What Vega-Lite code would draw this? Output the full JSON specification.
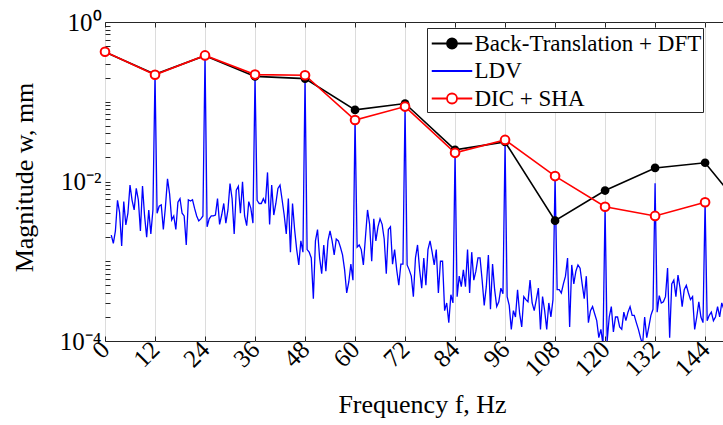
{
  "$schema": "https://vega.github.io/schema/vega-lite/v6.json",
  "width": 618,
  "height": 319,
  "autosize": {"type": "none"},
  "padding": {"left": 105, "top": 22, "right": 0, "bottom": 84},
  "background": "white",
  "config": {
    "font": "Liberation Serif",
    "style": {"guide-label": {"font": "Liberation Serif"}, "guide-title": {"font": "Liberation Serif"}},
    "view": {"stroke": "#262626", "strokeWidth": 1},
    "axis": {"labelFont": "Liberation Serif", "titleFont": "Liberation Serif", "labelColor": "#000000", "titleColor": "#000000", "domainColor": "#262626", "tickColor": "#262626", "titleFontWeight": "normal"},
    "legend": {"fillColor": "white", "strokeColor": "#262626", "padding": 1, "cornerRadius": 0, "labelFont": "Liberation Serif", "labelFontSize": 23, "labelColor": "#000000", "labelLimit": 400, "rowPadding": 0.5, "symbolStrokeWidth": 1.8, "symbolOpacity": 1, "symbolSize": 729, "symbolOffset": 9.5, "labelOffset": 8}
  },
  "datasets": {
    "ldv": [
      {"f":1.5,"m":0.00213},{"f":2,"m":0.00168},{"f":2.5,"m":0.0024},{"f":3,"m":0.0058},{"f":3.5,"m":0.0041},{"f":4,"m":0.00155},{"f":4.5,"m":0.0056},{"f":5,"m":0.00285},{"f":5.5,"m":0.004},{"f":6,"m":0.009},{"f":6.5,"m":0.0058},{"f":7,"m":0.0044},{"f":7.5,"m":0.0082},{"f":8,"m":0.0059},{"f":8.5,"m":0.0024},{"f":9,"m":0.0088},{"f":9.5,"m":0.0037},{"f":10,"m":0.002},{"f":10.5,"m":0.0044},{"f":11,"m":0.0022},{"f":11.5,"m":0.0044},
      {"f":12,"m":0.22},{"f":12.5,"m":0.004},{"f":13,"m":0.0049},{"f":13.5,"m":0.0051},{"f":14,"m":0.0025},{"f":14.5,"m":0.0048},{"f":15,"m":0.0108},{"f":15.5,"m":0.007},{"f":16,"m":0.0033},{"f":16.5,"m":0.0037},{"f":17,"m":0.0025},{"f":17.5,"m":0.0055},{"f":18,"m":0.0061},{"f":18.5,"m":0.004},{"f":19,"m":0.0037},{"f":19.5,"m":0.0016},{"f":20,"m":0.0059},{"f":20.5,"m":0.0057},{"f":21,"m":0.0059},{"f":21.5,"m":0.0046},{"f":22,"m":0.0037},{"f":22.5,"m":0.0032},{"f":23,"m":0.0034},{"f":23.5,"m":0.0037},
      {"f":24,"m":0.38},{"f":24.5,"m":0.0027},{"f":25,"m":0.0034},{"f":25.5,"m":0.0037},{"f":26,"m":0.0037},{"f":26.5,"m":0.0038},{"f":27,"m":0.0061},{"f":27.5,"m":0.0029},{"f":28,"m":0.0038},{"f":28.5,"m":0.0053},{"f":29,"m":0.003},{"f":29.5,"m":0.0044},{"f":30,"m":0.0094},{"f":30.5,"m":0.0061},{"f":31,"m":0.0022},{"f":31.5,"m":0.0078},{"f":32,"m":0.0087},{"f":32.5,"m":0.004},{"f":33,"m":0.0099},{"f":33.5,"m":0.0037},{"f":34,"m":0.0028},{"f":34.5,"m":0.0056},{"f":35,"m":0.0046},{"f":35.5,"m":0.003},
      {"f":36,"m":0.205},{"f":36.5,"m":0.0058},{"f":37,"m":0.0053},{"f":37.5,"m":0.0053},{"f":38,"m":0.0061},{"f":38.5,"m":0.0053},{"f":39,"m":0.013},{"f":39.5,"m":0.0029},{"f":40,"m":0.009},{"f":40.5,"m":0.0038},{"f":41,"m":0.0053},{"f":41.5,"m":0.0082},{"f":42,"m":0.009},{"f":42.5,"m":0.0059},{"f":43,"m":0.0038},{"f":43.5,"m":0.0022},{"f":44,"m":0.0061},{"f":44.5,"m":0.0013},{"f":45,"m":0.0053},{"f":45.5,"m":0.0025},{"f":46,"m":0.0014},{"f":46.5,"m":0.0009},{"f":47,"m":0.0018},{"f":47.5,"m":0.0013},
      {"f":48,"m":0.198},{"f":48.5,"m":0.0014},{"f":49,"m":0.0013},{"f":49.5,"m":0.0011},{"f":50,"m":0.00034},{"f":50.5,"m":0.0018},{"f":51,"m":0.0025},{"f":51.5,"m":0.0011},{"f":52,"m":0.0007},{"f":52.5,"m":0.0016},{"f":53,"m":0.00075},{"f":53.5,"m":0.0018},{"f":54,"m":0.0024},{"f":54.5,"m":0.0018},{"f":55,"m":0.0012},{"f":55.5,"m":0.0019},{"f":56,"m":0.0018},{"f":56.5,"m":0.0015},{"f":57,"m":0.0012},{"f":57.5,"m":0.00078},{"f":58,"m":0.0004},{"f":58.5,"m":0.00055},{"f":59,"m":0.00092},{"f":59.5,"m":0.00058},
      {"f":60,"m":0.061},{"f":60.5,"m":0.0015},{"f":61,"m":0.0016},{"f":61.5,"m":0.0014},{"f":62,"m":0.0009},{"f":62.5,"m":0.002},{"f":63,"m":0.0044},{"f":63.5,"m":0.0029},{"f":64,"m":0.001},{"f":64.5,"m":0.0034},{"f":65,"m":0.0018},{"f":65.5,"m":0.0027},{"f":66,"m":0.0034},{"f":66.5,"m":0.0029},{"f":67,"m":0.0019},{"f":67.5,"m":0.0007},{"f":68,"m":0.0025},{"f":68.5,"m":0.0027},{"f":69,"m":0.00092},{"f":69.5,"m":0.0014},{"f":70,"m":0.00078},{"f":70.5,"m":0.0005},{"f":71,"m":0.00092},{"f":71.5,"m":0.00092},
      {"f":72,"m":0.086},{"f":72.5,"m":0.0009},{"f":73,"m":0.00078},{"f":73.5,"m":0.00065},{"f":74,"m":0.00036},{"f":74.5,"m":0.0011},{"f":75,"m":0.0016},{"f":75.5,"m":0.00078},{"f":76,"m":0.00046},{"f":76.5,"m":0.0011},{"f":77,"m":0.0005},{"f":77.5,"m":0.0014},{"f":78,"m":0.0018},{"f":78.5,"m":0.0013},{"f":79,"m":0.0009},{"f":79.5,"m":0.0014},{"f":80,"m":0.0004},{"f":80.5,"m":0.001},{"f":81,"m":0.001},{"f":81.5,"m":0.00024},{"f":82,"m":0.0003},{"f":82.5,"m":0.00017},{"f":83,"m":0.00038},{"f":83.5,"m":0.0003},
      {"f":84,"m":0.023},{"f":84.5,"m":0.00036},{"f":85,"m":0.00065},{"f":85.5,"m":0.00048},{"f":86,"m":0.00078},{"f":86.5,"m":0.00048},{"f":87,"m":0.0014},{"f":87.5,"m":0.0004},{"f":88,"m":0.0013},{"f":88.5,"m":0.00058},{"f":89,"m":0.00075},{"f":89.5,"m":0.0011},{"f":90,"m":0.0011},{"f":90.5,"m":0.00058},{"f":91,"m":0.00028},{"f":91.5,"m":0.00048},{"f":92,"m":0.0012},{"f":92.5,"m":0.00025},{"f":93,"m":0.00092},{"f":93.5,"m":0.00044},{"f":94,"m":0.00027},{"f":94.5,"m":0.00031},{"f":95,"m":0.00046},{"f":95.5,"m":0.00039},
      {"f":96,"m":0.03},{"f":96.5,"m":0.00036},{"f":97,"m":0.00028},{"f":97.5,"m":0.00014},{"f":98,"m":0.00024},{"f":98.5,"m":0.0002},{"f":99,"m":0.00044},{"f":99.5,"m":0.00022},{"f":100,"m":0.00015},{"f":100.5,"m":0.00036},{"f":101,"m":0.00033},{"f":101.5,"m":0.00031},{"f":102,"m":0.00058},{"f":102.5,"m":0.0003},{"f":103,"m":0.00024},{"f":103.5,"m":0.00033},{"f":104,"m":0.00046},{"f":104.5,"m":0.00014},{"f":105,"m":0.00036},{"f":105.5,"m":0.00024},{"f":106,"m":0.00014},{"f":106.5,"m":0.0003},{"f":107,"m":0.0002},{"f":107.5,"m":0.00033},
      {"f":108,"m":0.0115},{"f":108.5,"m":0.00044},{"f":109,"m":0.00044},{"f":109.5,"m":0.0004},{"f":110,"m":0.00052},{"f":110.5,"m":0.00065},{"f":111,"m":0.0011},{"f":111.5,"m":0.00015},{"f":112,"m":0.0009},{"f":112.5,"m":0.00052},{"f":113,"m":0.00075},{"f":113.5,"m":0.0009},{"f":114,"m":0.00082},{"f":114.5,"m":0.00052},{"f":115,"m":0.00034},{"f":115.5,"m":0.00065},{"f":116,"m":0.00017},{"f":116.5,"m":0.00024},{"f":117,"m":0.00027},{"f":117.5,"m":0.00022},{"f":118,"m":0.00018},{"f":118.5,"m":0.00011},{"f":119,"m":0.00014},{"f":119.5,"m":0.00009},
      {"f":120,"m":0.0048},{"f":120.5,"m":0.0001},{"f":121,"m":0.0002},{"f":121.5,"m":0.00027},{"f":122,"m":0.00013},{"f":122.5,"m":0.0002},{"f":123,"m":0.0002},{"f":123.5,"m":0.00015},{"f":124,"m":0.00014},{"f":124.5,"m":0.00023},{"f":125,"m":0.00018},{"f":125.5,"m":0.00023},{"f":126,"m":0.00027},{"f":126.5,"m":0.00021},{"f":127,"m":0.00021},{"f":127.5,"m":0.00017},{"f":128,"m":0.00014},{"f":128.5,"m":0.00011},{"f":129,"m":0.00009},{"f":129.5,"m":0.0002},{"f":130,"m":0.00011},{"f":130.5,"m":0.00015},{"f":131,"m":0.00021},{"f":131.5,"m":0.00025},
      {"f":132,"m":0.0095},{"f":132.5,"m":0.00023},{"f":133,"m":0.00037},{"f":133.5,"m":0.0003},{"f":134,"m":0.00031},{"f":134.5,"m":0.00036},{"f":135,"m":0.00082},{"f":135.5,"m":0.00011},{"f":136,"m":0.00052},{"f":136.5,"m":0.00058},{"f":137,"m":0.00036},{"f":137.5,"m":0.00067},{"f":138,"m":0.00046},{"f":138.5,"m":0.00027},{"f":139,"m":0.00044},{"f":139.5,"m":0.0005},{"f":140,"m":0.0004},{"f":140.5,"m":0.00033},{"f":141,"m":0.00036},{"f":141.5,"m":0.00014},{"f":142,"m":0.0002},{"f":142.5,"m":0.00031},{"f":143,"m":0.0002},{"f":143.5,"m":0.00017},
      {"f":144,"m":0.0055},{"f":144.5,"m":0.00018},{"f":145,"m":0.00021},{"f":145.5,"m":0.00023},{"f":146,"m":0.00018},{"f":146.5,"m":0.0002},{"f":147,"m":0.00027},{"f":147.5,"m":0.0002},{"f":148,"m":0.0003},{"f":148.5,"m":0.00025}
    ],
    "pts": [
      {"s":"Back-Translation + DFT","f":0,"m":0.42},{"s":"Back-Translation + DFT","f":12,"m":0.221},{"s":"Back-Translation + DFT","f":24,"m":0.378},{"s":"Back-Translation + DFT","f":36,"m":0.208},{"s":"Back-Translation + DFT","f":48,"m":0.195},{"s":"Back-Translation + DFT","f":60,"m":0.079},{"s":"Back-Translation + DFT","f":72,"m":0.095},{"s":"Back-Translation + DFT","f":84,"m":0.0249},{"s":"Back-Translation + DFT","f":96,"m":0.0313},{"s":"Back-Translation + DFT","f":108,"m":0.00323},{"s":"Back-Translation + DFT","f":120,"m":0.0077},{"s":"Back-Translation + DFT","f":132,"m":0.0148},{"s":"Back-Translation + DFT","f":144,"m":0.0172},{"s":"Back-Translation + DFT","f":156,"m":0.0029},
      {"s":"DIC + SHA","f":0,"m":0.424},{"s":"DIC + SHA","f":12,"m":0.218},{"s":"DIC + SHA","f":24,"m":0.381},{"s":"DIC + SHA","f":36,"m":0.219},{"s":"DIC + SHA","f":48,"m":0.215},{"s":"DIC + SHA","f":60,"m":0.059},{"s":"DIC + SHA","f":72,"m":0.087},{"s":"DIC + SHA","f":84,"m":0.0229},{"s":"DIC + SHA","f":96,"m":0.0332},{"s":"DIC + SHA","f":108,"m":0.0117},{"s":"DIC + SHA","f":120,"m":0.00483},{"s":"DIC + SHA","f":132,"m":0.0037},{"s":"DIC + SHA","f":144,"m":0.0055}
    ]
  },
  "layer": [
    {
      "data": {"name": "ldv"},
      "mark": {"type": "line", "clip": true, "strokeWidth": 1.3, "color": "#0000ff"},
      "encoding": {
        "x": {"field": "f", "type": "quantitative", "scale": {"domain": [0, 148.3], "nice": false, "zero": false},
          "axis": {"values": [0,12,24,36,48,60,72,84,96,108,120,132,144], "grid": true, "gridColor": "#dcdcdc", "gridWidth": 1, "domain": false, "tickSize": -5, "labelAngle": -45, "labelAlign": "right", "labelBaseline": "middle", "labelFontSize": 25, "labelPadding": 9, "labelFlush": false, "labelOverlap": false, "labelBound": false, "title": "Frequency f, Hz", "titleFontSize": 26, "titleX": 317, "titleY": 71, "titleAlign": "center", "titleBaseline": "alphabetic"}},
        "y": {"field": "m", "type": "quantitative", "scale": {"type": "log", "domain": [0.0001, 1], "nice": false},
          "axis": {"values": [0.0001,0.0002,0.0003,0.0004,0.0005,0.0006,0.0007,0.0008,0.0009,0.001,0.002,0.003,0.004,0.005,0.006,0.007,0.008,0.009,0.01,0.02,0.03,0.04,0.05,0.06,0.07,0.08,0.09,0.1,0.2,0.3,0.4,0.5,0.6,0.7,0.8,0.9,1], "grid": false, "domain": false, "tickSize": -5, "labelExpr": "datum.value == 1 ? '10⁰' : datum.value == 0.01 ? '10⁻²' : datum.value == 0.0001 ? '10⁻⁴' : ''", "labelFontSize": 25, "labelPadding": 9, "labelFlush": false, "labelOverlap": false, "labelBound": false, "title": "Magnitude w, mm", "titleFontSize": 26, "titleX": -73, "titleY": 155, "titleAlign": "center", "titleBaseline": "alphabetic"}}
      }
    },
    {
      "data": {"name": "pts"},
      "transform": [{"filter": "datum.s === 'Back-Translation + DFT'"}],
      "mark": {"type": "line", "clip": false, "strokeWidth": 1.6, "color": "#000000"},
      "encoding": {
        "x": {"field": "f", "type": "quantitative", "axis": {"orient": "top", "values": [0,12,24,36,48,60,72,84,96,108,120,132,144], "grid": false, "labels": false, "domain": false, "tickSize": -5, "title": null}},
        "y": {"field": "m", "type": "quantitative"}
      }
    },
    {
      "data": {"name": "pts"},
      "transform": [{"filter": "datum.s === 'DIC + SHA'"}],
      "mark": {"type": "line", "clip": false, "strokeWidth": 1.6, "color": "#ff0000"},
      "encoding": {
        "x": {"field": "f", "type": "quantitative", "axis": null},
        "y": {"field": "m", "type": "quantitative"}
      }
    },
    {
      "data": {"name": "pts"},
      "transform": [{"filter": "datum.s === 'Back-Translation + DFT'"}],
      "mark": {"type": "point", "filled": true, "size": 75, "opacity": 1, "clip": false, "color": "#000000"},
      "encoding": {
        "x": {"field": "f", "type": "quantitative", "axis": null},
        "y": {"field": "m", "type": "quantitative"}
      }
    },
    {
      "data": {"name": "pts"},
      "transform": [{"filter": "datum.s === 'DIC + SHA'"}],
      "mark": {"type": "point", "filled": false, "stroke": "#ff0000", "fill": "white", "fillOpacity": 1, "strokeWidth": 2, "size": 75, "opacity": 1, "clip": false},
      "encoding": {
        "x": {"field": "f", "type": "quantitative", "axis": null},
        "y": {"field": "m", "type": "quantitative"}
      }
    },
    {
      "data": {"name": "pts"},
      "transform": [{"filter": "datum.f > 1000"}],
      "mark": {"type": "point", "filled": false, "size": 729, "strokeWidth": 1.8, "opacity": 1},
      "encoding": {
        "x": {"field": "f", "type": "quantitative", "axis": null},
        "y": {"field": "m", "type": "quantitative"},
        "color": {"field": "s", "type": "nominal",
          "scale": {"domain": ["Back-Translation + DFT", "LDV", "DIC + SHA"], "range": ["#000000", "#0000ff", "#ff0000"]},
          "legend": {"title": null, "orient": "none", "legendX": 322, "legendY": 6, "direction": "vertical", "labelFont": "Liberation Serif", "labelFontSize": 23, "symbolSize": 729, "rowPadding": 0.5, "padding": 1, "symbolOffset": 9.5, "labelOffset": 8}},
        "fill": {"field": "s", "type": "nominal",
          "scale": {"domain": ["Back-Translation + DFT", "LDV", "DIC + SHA"], "range": ["#000000", "transparent", "#ffffff"]},
          "legend": {"title": null, "orient": "none", "legendX": 322, "legendY": 6, "direction": "vertical", "labelFont": "Liberation Serif", "labelFontSize": 23, "symbolSize": 729, "rowPadding": 0.5, "padding": 1, "symbolOffset": 9.5, "labelOffset": 8}},
        "shape": {"field": "s", "type": "nominal",
          "scale": {"domain": ["Back-Translation + DFT", "LDV", "DIC + SHA"], "range": ["M-1.5,0H1.5M0.37,0A0.37,0.37,0,1,1,-0.37,0A0.37,0.37,0,1,1,0.37,0Z", "M-1.5,0H1.5", "M-1.5,0H-0.37M0.37,0H1.5M0.37,0A0.37,0.37,0,1,1,-0.37,0A0.37,0.37,0,1,1,0.37,0Z"]},
          "legend": {"title": null, "orient": "none", "legendX": 322, "legendY": 6, "direction": "vertical", "labelFont": "Liberation Serif", "labelFontSize": 23, "symbolSize": 729, "rowPadding": 0.5, "padding": 1, "symbolOffset": 9.5, "labelOffset": 8}}
      }
    }
  ],
  "resolve": {"axis": {"x": "independent"}}
}
